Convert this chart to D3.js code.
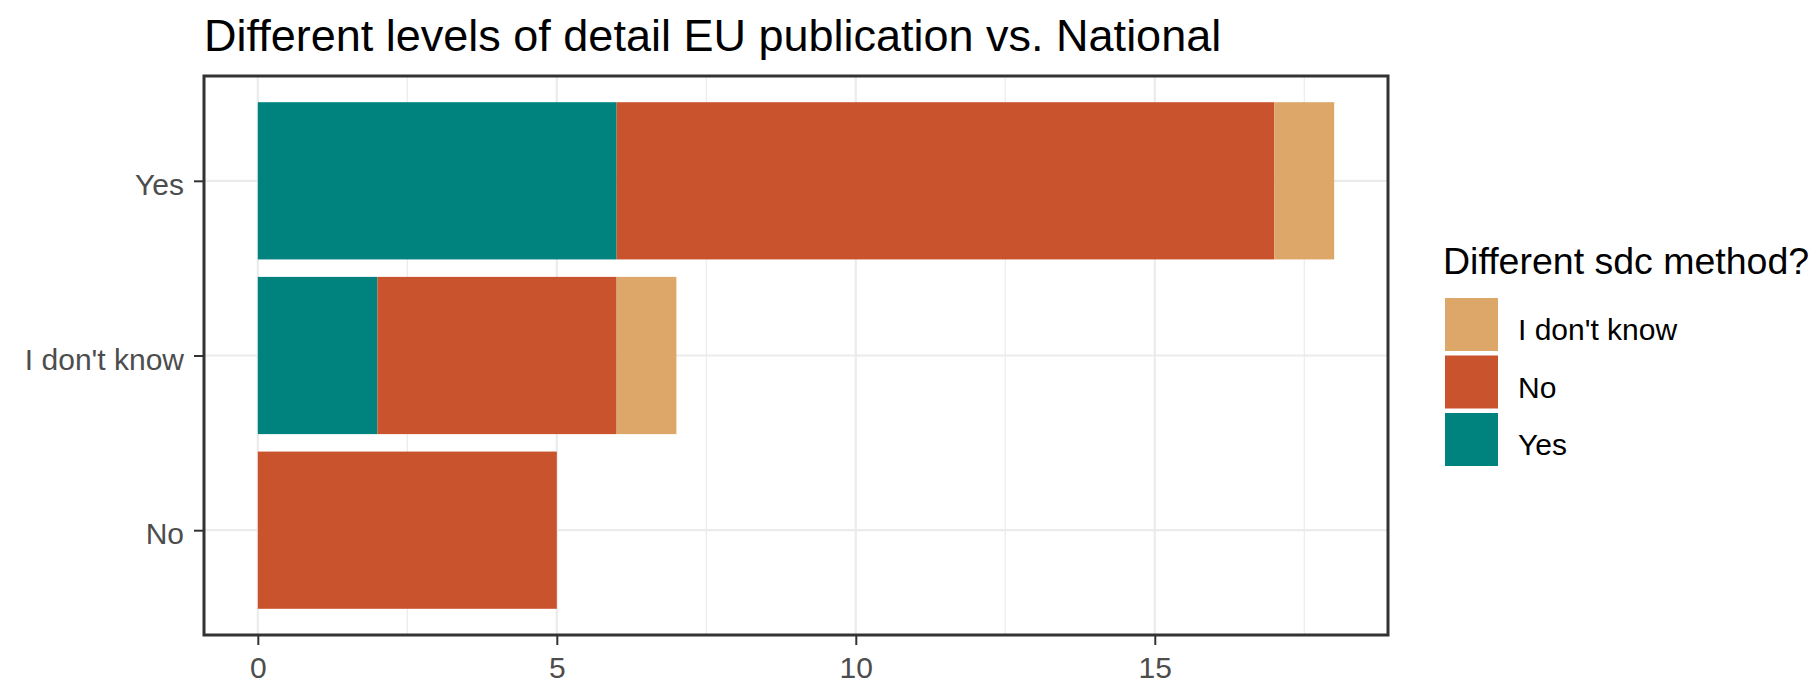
<!DOCTYPE html>
<html>
<head>
<meta charset="utf-8">
<script src="https://cdn.jsdelivr.net/npm/d3@7"></script>
<style>
  body { margin: 0; background: #fff; }
  text { font-family: "Liberation Sans", Arial, sans-serif; }
</style>
</head>
<body>
<div id="chart"></div>
<script>
// data
var categories = ["No", "I don't know", "Yes"];          // bottom to top
var answers = ["Yes", "No", "I don't know"];             // stack order, left to right
var yesValues = [0, 2, 6];
var noValues = [5, 4, 11];
var dkValues = [0, 1, 1];
var xTicks = [0, 5, 10, 15];
var xMinor = [2.5, 7.5, 12.5, 17.5];
var legendLabels = ["I don't know", "No", "Yes"];
var colors = { "Yes": "#00837f", "No": "#c8532d", "I don't know": "#dda769" };

var svgWidth = 1810;
var svgHeight = 684;

var margin = { top: 76, right: 422, bottom: 49, left: 204 };
var width = svgWidth - margin.left - margin.right;
var height = svgHeight - margin.top - margin.bottom;

var svg = d3.select("#chart")
  .append("svg")
  .attr("width", svgWidth)
  .attr("height", svgHeight);

var chartGroup = svg.append("g")
  .attr("transform", `translate(${margin.left}, ${margin.top})`);

// build stacked rows
var rows = categories.map(function(c, i) {
  return { cat: c, "Yes": yesValues[i], "No": noValues[i], "I don't know": dkValues[i] };
});
var stacked = d3.stack().keys(answers)(rows);

var maxTotal = d3.max(rows, d => d["Yes"] + d["No"] + d["I don't know"]);

// ggplot style expansion: 5% on continuous, 0.6 on discrete
var xScale = d3.scaleLinear()
  .domain([-0.05 * maxTotal, maxTotal * 1.05])
  .range([0, width]);

var yScale = d3.scaleLinear()
  .domain([0.4, categories.length + 0.6])
  .range([height, 0]);

var yPos = c => yScale(categories.indexOf(c) + 1);
var barHalf = (yScale(0) - yScale(0.9)) / 2;

// grid
chartGroup.selectAll(".minor")
  .data(xMinor)
  .enter()
  .append("line")
  .attr("x1", d => xScale(d))
  .attr("x2", d => xScale(d))
  .attr("y1", 0)
  .attr("y2", height)
  .attr("stroke", "#ebebeb")
  .attr("stroke-width", 1.2);

chartGroup.selectAll(".majorx")
  .data(xTicks)
  .enter()
  .append("line")
  .attr("x1", d => xScale(d))
  .attr("x2", d => xScale(d))
  .attr("y1", 0)
  .attr("y2", height)
  .attr("stroke", "#ebebeb")
  .attr("stroke-width", 2.2);

chartGroup.selectAll(".majory")
  .data(categories)
  .enter()
  .append("line")
  .attr("x1", 0)
  .attr("x2", width)
  .attr("y1", d => yPos(d))
  .attr("y2", d => yPos(d))
  .attr("stroke", "#ebebeb")
  .attr("stroke-width", 2.2);

// bars
stacked.forEach(function(layer) {
  chartGroup.selectAll(null)
    .data(layer.filter(d => d[1] > d[0]))
    .enter()
    .append("rect")
    .attr("x", d => xScale(d[0]))
    .attr("width", d => xScale(d[1]) - xScale(d[0]))
    .attr("y", d => yPos(d.data.cat) - barHalf)
    .attr("height", barHalf * 2)
    .attr("fill", colors[layer.key]);
});

// panel border
chartGroup.append("rect")
  .attr("x", 0)
  .attr("y", 0)
  .attr("width", width)
  .attr("height", height)
  .attr("fill", "none")
  .attr("stroke", "#333333")
  .attr("stroke-width", 3);

// axes
var bottomAxis = d3.axisBottom(xScale)
  .tickValues(xTicks)
  .tickSize(10)
  .tickPadding(12)
  .tickFormat(d3.format("d"));

var xAxis = chartGroup.append("g")
  .attr("transform", `translate(0, ${height})`)
  .call(bottomAxis);
xAxis.select(".domain").remove();
xAxis.selectAll("line").attr("stroke", "#333333").attr("stroke-width", 2);
xAxis.selectAll("text")
  .attr("font-size", 30)
  .attr("fill", "#4d4d4d")
  .attr("font-family", "Liberation Sans, Arial, sans-serif")
  .attr("dy", "0.71em");

var leftAxis = d3.axisLeft(yScale)
  .tickValues(d3.range(1, categories.length + 1))
  .tickSize(10)
  .tickPadding(10)
  .tickFormat(d => categories[d - 1]);

var yAxis = chartGroup.append("g")
  .call(leftAxis);
yAxis.select(".domain").remove();
yAxis.selectAll("line").attr("stroke", "#333333").attr("stroke-width", 2);
yAxis.selectAll("text")
  .attr("font-size", 30)
  .attr("fill", "#4d4d4d")
  .attr("font-family", "Liberation Sans, Arial, sans-serif")
  .attr("dy", "0.45em");

// title
svg.append("text")
  .attr("x", margin.left)
  .attr("y", 51)
  .attr("font-size", 45)
  .attr("fill", "#000")
  .text("Different levels of detail EU publication vs. National");

// legend
var legend = svg.append("g")
  .attr("transform", "translate(1443, 274)");

legend.append("text")
  .attr("x", 0)
  .attr("y", 0)
  .attr("font-size", 37.5)
  .attr("fill", "#000")
  .text("Different sdc method?");

var keys = legend.selectAll(".key")
  .data(legendLabels)
  .enter()
  .append("g")
  .attr("transform", (d, i) => `translate(0, ${22 + i * 57.5})`);

keys.append("rect")
  .attr("x", 2)
  .attr("y", 2)
  .attr("width", 53)
  .attr("height", 53)
  .attr("fill", d => colors[d]);

keys.append("text")
  .attr("x", 75)
  .attr("y", 44)
  .attr("font-size", 30)
  .attr("fill", "#000")
  .text(d => d);
</script>
</body>
</html>
